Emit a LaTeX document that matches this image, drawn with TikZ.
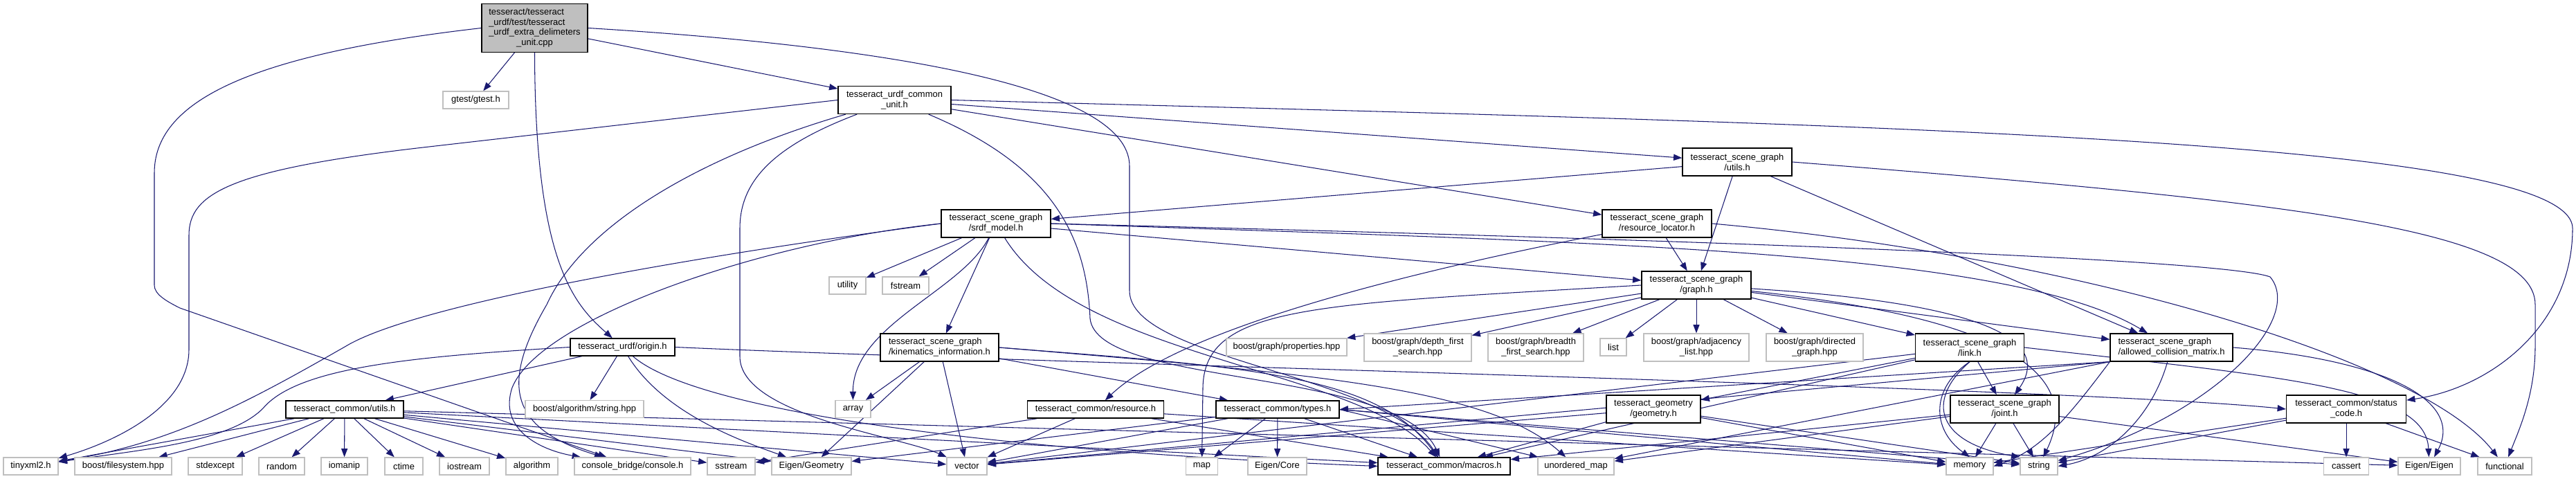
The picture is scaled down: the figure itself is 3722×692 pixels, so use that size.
\documentclass[tikz,border=0pt]{standalone}
\usepackage{fontspec}
\setmainfont{Liberation Sans}
\usetikzlibrary{arrows.meta,positioning,backgrounds}

\definecolor{edgeblue}{HTML}{191970}
\definecolor{boxgray}{HTML}{BFBFBF}

\begin{document}
\begin{tikzpicture}[x=0.02cm, y=-0.02cm, font=\fontsize{7.37}{8.5}\selectfont]
    \tikzstyle{file}     = [draw=black, fill=white, line width=0.75pt, inner sep=1pt, minimum height=0.5cm, align=center]
    \tikzstyle{extfile}  = [draw=boxgray, fill=white, line width=0.75pt, inner sep=1pt, minimum height=0.5cm, align=center]
    \tikzstyle{mainfile} = [draw=black, fill=boxgray, line width=0.75pt, inner sep=1pt, minimum height=1.4cm]
    \tikzstyle{twoline}  = [minimum height=0.8cm]
    \tikzstyle{edge}     = [draw=edgeblue, line width=0.6pt, -{Triangle[length=7pt,width=5.2pt]}]

    \useasboundingbox (0,0) rectangle (3722,692);

    % Upper files
    \node [mainfile, minimum width=3.06cm] (root) at (772.5,40.5) {\begin{tabular}{@{}l@{}}tesseract/tesseract\\\_urdf/test/tesseract\\\_urdf\_extra\_delimeters\\\multicolumn{1}{@{}c@{}}{\_unit.cpp}\end{tabular}};
    \node [extfile, minimum width=1.9cm] (gtest) at (687.5,144.5) {gtest/gtest.h};
    \node [file, twoline, minimum width=3.26cm] (cunit) at (1292.5,144.5) {tesseract\_urdf\_common\\\_unit.h};
    \node [file, twoline, minimum width=3.16cm] (sgutils) at (2510,234) {tesseract\_scene\_graph\\/utils.h};
    \node [file, twoline, minimum width=3.16cm] (srdf) at (1439,323) {tesseract\_scene\_graph\\/srdf\_model.h};
    \node [file, twoline, minimum width=3.16cm] (resloc) at (2394,323) {tesseract\_scene\_graph\\/resource\_locator.h};
    \node [extfile, minimum width=1.06cm] (utility) at (1224.5,412.5) {utility};
    \node [extfile, minimum width=1.34cm] (fstream) at (1308.5,412.5) {fstream};
    \node [file, twoline, minimum width=3.16cm] (graph) at (2451,412) {tesseract\_scene\_graph\\/graph.h};
    \node [file, minimum width=3.02cm] (origin) at (899.5,501.5) {tesseract\_urdf/origin.h};
    \node [file, twoline, minimum width=3.42cm, align=left] (kininfo) at (1357.5,502) {tesseract\_scene\_graph\\/kinematics\_information.h};
    \node [extfile, minimum width=3.48cm] (props) at (1859,501.5) {boost/graph/properties.hpp};
    \node [extfile, twoline, minimum width=3.1cm] (dfs) at (2048.5,502) {boost/graph/depth\_first\\\_search.hpp};
    \node [extfile, twoline, minimum width=2.76cm] (bfs) at (2219,502) {boost/graph/breadth\\\_first\_search.hpp};
    \node [extfile, minimum width=0.76cm] (list) at (2331,501.5) {list};
    \node [extfile, twoline, minimum width=3.04cm] (adj) at (2451,502) {boost/graph/adjacency\\\_list.hpp};
    \node [extfile, twoline, minimum width=2.8cm] (directed) at (2622,502) {boost/graph/directed\\\_graph.hpp};
    \node [file, twoline, minimum width=3.14cm] (link) at (2846,502) {tesseract\_scene\_graph\\/link.h};
    \node [file, twoline, minimum width=3.54cm, align=left] (acm) at (3137.5,502) {tesseract\_scene\_graph\\/allowed\_collision\_matrix.h};
    \node [extfile, minimum width=3.42cm] (algstring) at (844.5,591) {boost/algorithm/string.hpp};
    \node [extfile, minimum width=1.02cm] (array) at (1232.5,591) {array};
    \node [file, minimum width=3.4cm] (cutils) at (498,591.5) {tesseract\_common/utils.h};
    \node [file, minimum width=3.94cm] (resource) at (1583,591.5) {tesseract\_common/resource.h};
    \node [file, minimum width=3.56cm] (types) at (1846,591.5) {tesseract\_common/types.h};
    \node [file, twoline, minimum width=2.72cm] (geometry) at (2389,591) {tesseract\_geometry\\/geometry.h};
    \node [file, twoline, minimum width=3.14cm] (joint) at (2896.5,591) {tesseract\_scene\_graph\\/joint.h};
    \node [file, twoline, minimum width=3.46cm] (status) at (3390,591) {tesseract\_common/status\\\_code.h};

    % Bottom row
    \node [extfile, minimum width=1.58cm] (tinyxml) at (44.5,673.5) {tinyxml2.h};
    \node [extfile, minimum width=2.8cm] (filesystem) at (178,673.5) {boost/filesystem.hpp};
    \node [extfile, minimum width=1.56cm] (stdexcept) at (311,673.5) {stdexcept};
    \node [extfile, minimum width=1.32cm] (random) at (407,673.5) {random};
    \node [extfile, minimum width=1.34cm] (iomanip) at (497.5,673.5) {iomanip};
    \node [extfile, minimum width=1.1cm] (ctime) at (583.5,673.5) {ctime};
    \node [extfile, minimum width=1.44cm] (iostream) at (671,673.5) {iostream};
    \node [extfile, minimum width=1.5cm] (algorithm) at (768.5,673.5) {algorithm};
    \node [extfile, minimum width=3.36cm] (console) at (914,673.5) {console\_bridge/console.h};
    \node [extfile, minimum width=1.38cm] (sstream) at (1056.5,673.5) {sstream};
    \node [extfile, minimum width=2.3cm] (eigengeo) at (1172.5,673.5) {Eigen/Geometry};
    \node [extfile, minimum width=1.16cm] (vector) at (1397,673.5) {vector};
    \node [extfile, minimum width=0.92cm] (map) at (1736.5,673.5) {map};
    \node [extfile, minimum width=1.7cm] (eigencore) at (1845.5,673.5) {Eigen/Core};
    \node [file, minimum width=3.82cm] (macros) at (2086.5,673.5) {tesseract\_common/macros.h};
    \node [extfile, minimum width=2.2cm] (umap) at (2277,673.5) {unordered\_map};
    \node [extfile, minimum width=1.36cm] (memory) at (2846,673.5) {memory};
    \node [extfile, minimum width=1.08cm] (string) at (2946,673.5) {string};
    \node [extfile, minimum width=1.3cm] (cassert) at (3390,673.5) {cassert};
    \node [extfile, minimum width=1.8cm] (eigen) at (3510,673.5) {Eigen/Eigen};
    \node [extfile, minimum width=1.56cm] (functional) at (3619,673.5) {functional};

    % Connections
    \begin{scope}[on background layer]
    \draw [edge] (root) -- (gtest);
    \draw [edge] (root) -- (cunit);
    \draw [edge] (root.south) .. controls (773,380) and (830,440) .. (origin);
    \draw [edge] (root.west) .. controls (350,80) and (223,150) .. (223,250) -- (223,412) .. controls (223,425) and (240,435) .. (260,445) -- (console);
    \draw [edge] (root.east) .. controls (1250,65) and (1632,120) .. (1632,240) -- (1632,420) .. controls (1632,520) and (2000,540) .. (macros);

    \draw [edge] (cunit) -- (sgutils);
    \draw [edge] (cunit) -- (resloc);
    \draw [edge] (cunit.east) .. controls (2700,180) and (3717,200) .. (3717,330) .. controls (3717,470) and (3600,560) .. (status);
    \draw [edge] (cunit.west) -- (620,212) .. controls (330,245) and (273,280) .. (273,340) -- (273,505) .. controls (273,590) and (160,640) .. (tinyxml);
    \draw [edge] (cunit) .. controls (1000,230) and (840,330) .. (790,440) .. controls (720,560) and (740,620) .. (console);
    \draw [edge] (cunit) .. controls (1120,210) and (1069,260) .. (1069,330) -- (1069,515) .. controls (1069,600) and (1300,630) .. (vector);
    \draw [edge] (cunit) .. controls (1520,240) and (1570,340) .. (1575,460) .. controls (1585,560) and (2020,530) .. (macros);

    \draw [edge] (sgutils) -- (srdf);
    \draw [edge] (sgutils) -- (graph);
    \draw [edge] (sgutils) -- (acm);
    \draw [edge] (sgutils.east) .. controls (3300,290) and (3663,330) .. (3663,440) -- (3663,500) .. controls (3663,570) and (3640,620) .. (functional);

    \draw [edge] (resloc) .. controls (2000,400) and (1700,480) .. (resource);
    \draw [edge] (resloc) -- (graph);
    \draw [edge] (resloc.east) .. controls (3000,370) and (3500,520) .. (functional);

    \draw [edge] (srdf) -- (utility);
    \draw [edge] (srdf) -- (fstream);
    \draw [edge] (srdf) .. controls (1390,420) and (1232,470) .. (array);
    \draw [edge] (srdf) -- (kininfo);
    \draw [edge] (srdf.west) .. controls (1000,370) and (600,440) .. (500,500) .. controls (360,580) and (250,640) .. (tinyxml);
    \draw [edge] (srdf.west) .. controls (1100,350) and (780,460) .. (740,560) .. controls (720,620) and (780,650) .. (console);
    \draw [edge] (srdf) -- (graph);
    \draw [edge] (srdf.east) .. controls (2300,350) and (2900,360) .. (acm);
    \draw [edge] (srdf.east) .. controls (2200,340) and (3200,370) .. (3280,400) .. controls (3330,460) and (3200,600) .. (string);
    \draw [edge] (srdf) .. controls (1560,520) and (1960,530) .. (macros);

    \draw [edge] (origin.west) .. controls (600,515) and (430,530) .. (380,590) .. controls (330,640) and (200,650) .. (tinyxml);
    \draw [edge] (origin) -- (cutils);
    \draw [edge] (origin) -- (algstring);
    \draw [edge] (origin) .. controls (960,600) and (1080,640) .. (eigengeo);
    \draw [edge] (origin) .. controls (1000,590) and (1400,650) .. (macros.west);
    \draw [edge] (origin.east) .. controls (1500,525) and (3000,560) .. (status.west);

    \draw [edge] (kininfo) -- (array);
    \draw [edge] (kininfo) -- (eigengeo);
    \draw [edge] (kininfo) -- (vector);
    \draw [edge] (kininfo) -- (types);
    \draw [edge] (kininfo.east) .. controls (1800,530) and (1990,540) .. (macros);
    \draw [edge] (kininfo.east) .. controls (1900,540) and (2150,560) .. (umap);

    \draw [edge] (graph) -- (props);
    \draw [edge] (graph) -- (dfs);
    \draw [edge] (graph) -- (bfs);
    \draw [edge] (graph) -- (list);
    \draw [edge] (graph) -- (adj);
    \draw [edge] (graph) -- (directed);
    \draw [edge] (graph) -- (link);
    \draw [edge] (graph) -- (acm);
    \draw [edge] (graph) .. controls (2900,440) and (2960,500) .. (joint);
    \draw [edge] (graph) .. controls (2900,460) and (3010,540) .. (string);
    \draw [edge] (graph.west) .. controls (1900,440) and (1740,440) .. (1738,560) -- (map);

    \draw [edge] (cutils) -- (tinyxml);
    \draw [edge] (cutils) -- (filesystem);
    \draw [edge] (cutils) -- (stdexcept);
    \draw [edge] (cutils) -- (random);
    \draw [edge] (cutils) -- (iomanip);
    \draw [edge] (cutils) -- (ctime);
    \draw [edge] (cutils) -- (iostream);
    \draw [edge] (cutils) -- (algorithm);
    \draw [edge] (cutils) -- (sstream);
    \draw [edge] (cutils) -- (eigengeo);
    \draw [edge] (cutils) -- (vector);
    \draw [edge] (cutils) -- (macros);
    \draw [edge] (cutils) -- (eigen);

    \draw [edge] (types) -- (vector);
    \draw [edge] (types) -- (map);
    \draw [edge] (types) -- (eigencore);
    \draw [edge] (types) -- (macros);
    \draw [edge] (types) -- (eigengeo);
    \draw [edge] (types.east) -- (umap);
    \draw [edge] (types.east) -- (memory);
    \draw [edge] (types.east) -- (string);

    \draw [edge] (resource) -- (vector);
    \draw [edge] (resource) -- (macros);
    \draw [edge] (resource) -- (memory);
    \draw [edge] (resource) -- (sstream);

    \draw [edge] (link) -- (joint);
    \draw [edge] (link.south) .. controls (2790,560) and (2790,620) .. (memory.north);
    \draw [edge] (link.south) .. controls (2780,580) and (2800,640) .. (string.north west);
    \draw [edge] (link) -- (vector);
    \draw [edge] (link) -- (macros);
    \draw [edge] (link) -- (geometry);
    \draw [edge] (link.east) .. controls (3300,545) and (3505,560) .. (eigen);

    \draw [edge] (joint) -- (memory);
    \draw [edge] (joint) -- (string);
    \draw [edge] (joint) -- (macros);
    \draw [edge] (joint) -- (umap);
    \draw [edge] (joint) -- (eigen);

    \draw [edge] (acm.east) .. controls (3450,520) and (3560,580) .. (eigen);
    \draw [edge] (acm) .. controls (3110,600) and (3050,660) .. (string.east);
    \draw [edge] (acm.south west) .. controls (2990,600) and (2950,650) .. (memory.east);
    \draw [edge] (acm.south west) -- (vector);
    \draw [edge] (acm.south west) -- (umap);
    \draw [edge] (acm.south west) -- (types.east);

    \draw [edge] (geometry) -- (vector);
    \draw [edge] (geometry) -- (macros);
    \draw [edge] (geometry) -- (memory);
    \draw [edge] (geometry) -- (string);

    \draw [edge] (status) -- (cassert);
    \draw [edge] (status) -- (functional);
    \draw [edge] (status) -- (string);
    \draw [edge] (status) -- (memory);
    \end{scope}

\end{tikzpicture}
\end{document}
